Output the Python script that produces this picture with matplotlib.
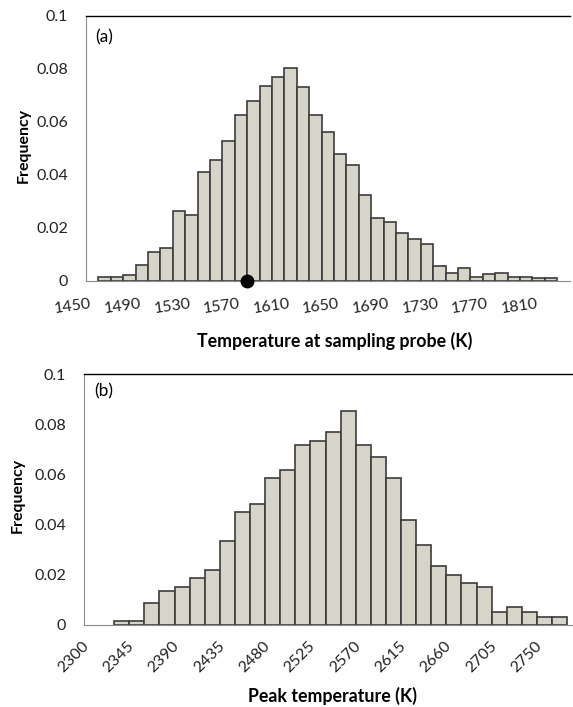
import matplotlib
matplotlib.use("Agg")
import matplotlib.pyplot as plt
import numpy as np

plt.rcParams['font.family'] = ['Lato', 'DejaVu Sans']

# (a) temperature at sampling probe, bins of 10 K (bin centres)
probe_bins = np.arange(1460, 1821, 10)
probe_freq = [0.0013, 0.0013, 0.002, 0.0058, 0.0107, 0.0122, 0.0264, 0.0249,
              0.0409, 0.0456, 0.0529, 0.0626, 0.0679, 0.0735, 0.0768, 0.0802,
              0.0732, 0.0626, 0.0563, 0.0477, 0.0438, 0.0325, 0.0238, 0.022,
              0.0181, 0.0156, 0.014, 0.0057, 0.0028, 0.0049, 0.0013, 0.0026,
              0.003, 0.0013, 0.0013, 0.0009, 0.0009]
probe_ticks = [1450, 1490, 1530, 1570, 1610, 1650, 1690, 1730, 1770, 1810]
probe_marker = 1575

# (b) peak temperature, bins of 15 K
peak_bins = np.arange(2330, 2766, 15)
peak_freq = [0.0016, 0.0016, 0.0085, 0.0136, 0.0152, 0.0185, 0.0217, 0.0335,
             0.0451, 0.0483, 0.0586, 0.0617, 0.0718, 0.0733, 0.0769, 0.0853,
             0.0718, 0.0671, 0.0587, 0.0419, 0.0319, 0.0236, 0.02, 0.0168,
             0.0152, 0.0052, 0.0069, 0.0052, 0.0032, 0.0032]
peak_ticks = [2300, 2345, 2390, 2435, 2480, 2525, 2570, 2615, 2660, 2705, 2750]

yticks = [0, 0.02, 0.04, 0.06, 0.08, 0.1]
ytick_labels = ['0', '0.02', '0.04', '0.06', '0.08', '0.1']

bar_color = '#d7d5c9'
edge_color = '#3c3c3c'
axis_gray = '#8c8c8c'
fs = 11.5
fs_label = 12.8

W, H = 573, 707
fig = plt.figure(figsize=(W / 100, H / 100), dpi=100)


def style_axes(ax):
    ax.set_ylim(0, 0.1)
    ax.set_yticks(yticks)
    ax.set_yticklabels(ytick_labels)
    ax.spines['right'].set_visible(False)
    ax.spines['top'].set_color('black')
    ax.spines['top'].set_linewidth(1.0)
    ax.spines['left'].set_color(axis_gray)
    ax.spines['bottom'].set_color(axis_gray)
    ax.tick_params(axis='y', length=0, pad=13, labelsize=fs, labelcolor='#222222')
    ax.tick_params(axis='x', length=0, labelsize=fs, labelcolor='#222222')


# ---- panel (a)
ax1 = fig.add_axes([86 / W, 1 - 280.7 / H, 483.6 / W, 264.7 / H])
ax1.bar(probe_bins, probe_freq, width=10, color=bar_color, edgecolor=edge_color,
        linewidth=1.2)
ax1.set_xlim(1445, 1835)
style_axes(ax1)
ax1.set_xticks(probe_ticks)
ax1.set_xticklabels([str(t) for t in probe_ticks], rotation=8, ha='right', va='top')
ax1.tick_params(axis='x', pad=12)
ax1.plot([probe_marker], [0], 'o', color='black', markersize=9, clip_on=False, zorder=5)
ax1.text(0.02, 0.92, '(a)', transform=ax1.transAxes, fontsize=12.5, va='center')

fig.text(335 / W, 1 - 341 / H, 'Temperature at sampling probe (K)', ha='center',
         va='center', fontsize=fs_label, fontweight='bold')
fig.text(24 / W, 1 - 145 / H, 'Frequency', rotation=90, ha='center', va='center',
         fontsize=fs, fontweight='bold')

# ---- panel (b)
ax2 = fig.add_axes([84 / W, 1 - 624.7 / H, 488 / W, 250.4 / H])
ax2.bar(peak_bins, peak_freq, width=15, color=bar_color, edgecolor=edge_color,
        linewidth=1.2)
ax2.set_xlim(2292.5, 2777.3)
style_axes(ax2)
ax2.set_xticks(peak_ticks)
ax2.set_xticklabels([str(t) for t in peak_ticks], rotation=45, ha='right', va='top')
ax2.tick_params(axis='x', pad=10)
ax2.text(0.02, 0.93, '(b)', transform=ax2.transAxes, fontsize=12.5, va='center')

fig.text(333 / W, 1 - 696 / H, 'Peak temperature (K)', ha='center', va='center',
         fontsize=fs_label, fontweight='bold')
fig.text(18 / W, 1 - 495 / H, 'Frequency', rotation=90, ha='center', va='center',
         fontsize=fs, fontweight='bold')

fig.savefig('out.png', dpi=100)
